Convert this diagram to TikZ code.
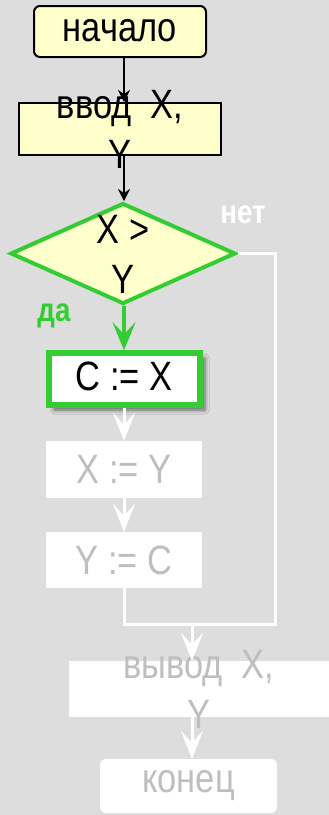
\documentclass[tikz,border=0pt]{standalone}
\usepackage{fontspec}
\setmainfont[FakeStretch=0.84]{Liberation Sans}
\usetikzlibrary{arrows.meta,shapes.geometric,shadows.blur}
\definecolor{bg}{RGB}{221,221,221}
\definecolor{yel}{RGB}{255,255,204}
\definecolor{grn}{RGB}{51,204,51}
\definecolor{tgray}{RGB}{190,190,190}
\tikzset{
  big/.style={font=\fontsize{41}{50}\selectfont},
  yelbox/.style={draw=black,line width=2pt,fill=yel,inner sep=0pt,rectangle},
  whitebox/.style={fill=white,inner sep=0pt,rectangle,text=tgray,big},
  txt/.style={big,align=center,inner sep=0pt},
  blackarrow/.style={draw=black,line width=1.5pt,-{Stealth[length=12pt,width=12pt,inset=4pt]}},
  greenarrow/.style={draw=grn,line width=4pt,-{Stealth[length=28pt,width=23pt,inset=12pt]}},
  whitearrow/.style={draw=white,line width=3pt,-{Stealth[length=28pt,width=22pt,inset=12pt]}},
  wline/.style={draw=white,line width=3pt},
  lbl/.style={font=\fontsize{33}{36}\selectfont\bfseries,inner sep=0pt,anchor=base}
}
\begin{document}
\begin{tikzpicture}[x=1pt,y=-1pt]
\fill[bg] (0,0) rectangle (329,815);
\useasboundingbox (0,0) rectangle (329,815);
% column coordinates
\coordinate (colA) at (124,0);
\coordinate (colB) at (192,0);
\coordinate (merge) at (275,624);
% nodes
\node[yelbox,rounded corners=6pt,minimum width=172pt,minimum height=51pt] (nach) at (120,31.5) {};
\node[txt] (nachT) at (120,31) {начало};
\node[yelbox,minimum width=202pt,minimum height=52pt] (vvod) at (120,129) {};
\node[txt] (vvodT) at (120,129) {ввод~~X,\\Y};
\node[diamond,draw=grn,line width=4pt,fill=yel,inner sep=0pt,minimum width=225pt,minimum height=101pt] (dia) at (123,253.5) {};
\node[txt] (diaT) at (123,254) {X >\\Y};
\node[rectangle,draw=grn,line width=5.5pt,fill=white,inner sep=0pt,minimum width=151pt,minimum height=52pt,
  blur shadow={shadow xshift=5pt,shadow yshift=-5pt,shadow blur radius=4pt,shadow opacity=55}] (cx) at (124.5,379) {};
\node[txt] (cxT) at (124,376) {C := X};
\node[whitebox,minimum width=156pt,minimum height=57pt] (xy) at (124,469.5) {X := Y};
\node[whitebox,minimum width=156pt,minimum height=56pt] (yc) at (124,560) {Y := C};
\node[rectangle,fill=white,inner sep=0pt,minimum width=262pt,minimum height=56pt] (vyv) at (200,689) {};
\node[txt,text=tgray] (vyvT) at (199,689) {вывод~~X,\\Y};
\node[whitebox,rounded corners=6pt,minimum width=177pt,minimum height=54pt] (kon) at (188.5,786) {конец};
% labels
\node[lbl,text=grn] (da) at (54,321) {да};
\node[lbl,text=white] (net) at (243,223) {нет};
% connectors
\draw[blackarrow] (nach.south -| colA) -- (vvod.north -| colA);
\draw[blackarrow] (vvod.south -| colA) -- (dia.north -| colA);
\draw[greenarrow] (dia.south -| colA) -- (cx.north -| colA);
\draw[whitearrow] (cx.south -| colA) -- (xy.north -| colA);
\draw[whitearrow] (xy.south -| colA) -- (yc.north -| colA);
\draw[wline] (dia.east) -| (merge) -- (merge -| colA) -- (yc.south -| colA);
\coordinate (m2) at (merge -| colB);
\draw[whitearrow] (m2) -- (vyv.north -| colB);
\draw[whitearrow] (vyv.south -| colB) -- (kon.north -| colB);
\end{tikzpicture}
\end{document}
